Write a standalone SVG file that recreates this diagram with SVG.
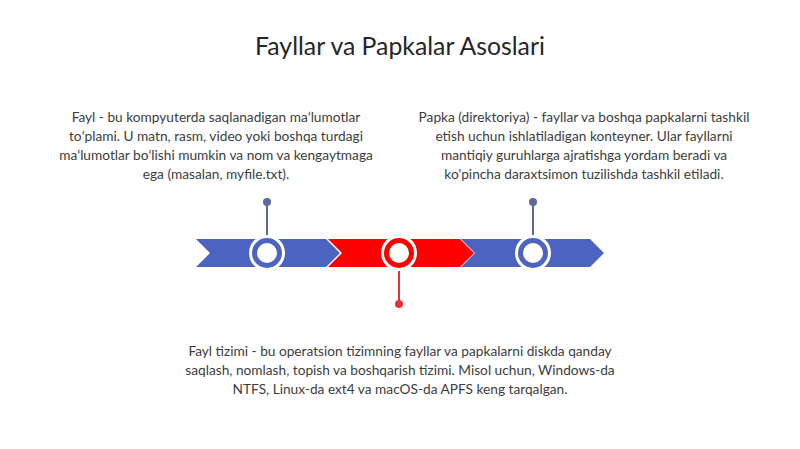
<svg xmlns="http://www.w3.org/2000/svg" width="800" height="449" viewBox="0 0 800 449">
<style>
text{font-family:Lato,"Open Sans","Liberation Sans",sans-serif;fill:#3d3d3d;text-anchor:middle}
.t{font-size:24.8px;fill:#262626}
.p{font-size:13.7px}
.blue{fill:#4d63c2}
.red{fill:#ff0000}
.ringb{fill:#fff;stroke:#4d63c2;stroke-width:5}
.ringr{fill:#fff;stroke:#ff0000;stroke-width:5}
.halo{fill:#fff}
</style>
<rect width="800" height="449" fill="#fff"/>
<text class="t" x="400" y="55">Fayllar va Papkalar Asoslari</text>
<g id="connectors">
<line x1="267" y1="203" x2="267" y2="238" stroke="#5b6b99" stroke-width="2"/>
<circle cx="267" cy="202" r="4" fill="#5b6b99"/>
<line x1="533" y1="203" x2="533" y2="238" stroke="#5b6b99" stroke-width="2"/>
<circle cx="533" cy="202" r="4" fill="#5b6b99"/>
<line x1="399" y1="268" x2="399" y2="303" stroke="#e8303a" stroke-width="2"/>
<circle cx="399" cy="304" r="4" fill="#e8303a"/>
</g>
<g id="timeline">
<polygon class="blue" points="196,239 326,239 340,253 326,267 196,267 210,253"/>
<polygon class="red" points="328,239 460,239 474,253 460,267 328,267 342,253"/>
<polygon class="blue" points="461,239 590,239 604,253 590,267 461,267 475,253"/>
</g>
<g id="node1">
<circle class="halo" cx="267" cy="253" r="18"/>
<circle class="ringb" cx="267" cy="253" r="12.5"/>
<text class="p" x="216" y="122">Fayl - bu kompyuterda saqlanadigan maʻlumotlar</text>
<text class="p" x="216" y="141">toʻplami. U matn, rasm, video yoki boshqa turdagi</text>
<text class="p" x="216" y="160">maʻlumotlar boʻlishi mumkin va nom va kengaytmaga</text>
<text class="p" x="216" y="179">ega (masalan, myfile.txt).</text>
</g>
<g id="node2">
<circle class="halo" cx="399" cy="253" r="18"/>
<circle class="ringr" cx="399" cy="253" r="12.5"/>
<text class="p" x="400" y="356">Fayl tizimi - bu operatsion tizimning fayllar va papkalarni diskda qanday</text>
<text class="p" x="400" y="375">saqlash, nomlash, topish va boshqarish tizimi. Misol uchun, Windows-da</text>
<text class="p" x="400" y="394">NTFS, Linux-da ext4 va macOS-da APFS keng tarqalgan.</text>
</g>
<g id="node3">
<circle class="halo" cx="533" cy="253" r="18"/>
<circle class="ringb" cx="533" cy="253" r="12.5"/>
<text class="p" x="584" y="122">Papka (direktoriya) - fayllar va boshqa papkalarni tashkil</text>
<text class="p" x="584" y="141">etish uchun ishlatiladigan konteyner. Ular fayllarni</text>
<text class="p" x="584" y="160">mantiqiy guruhlarga ajratishga yordam beradi va</text>
<text class="p" x="584" y="179">ko'pincha daraxtsimon tuzilishda tashkil etiladi.</text>
</g>
</svg>
